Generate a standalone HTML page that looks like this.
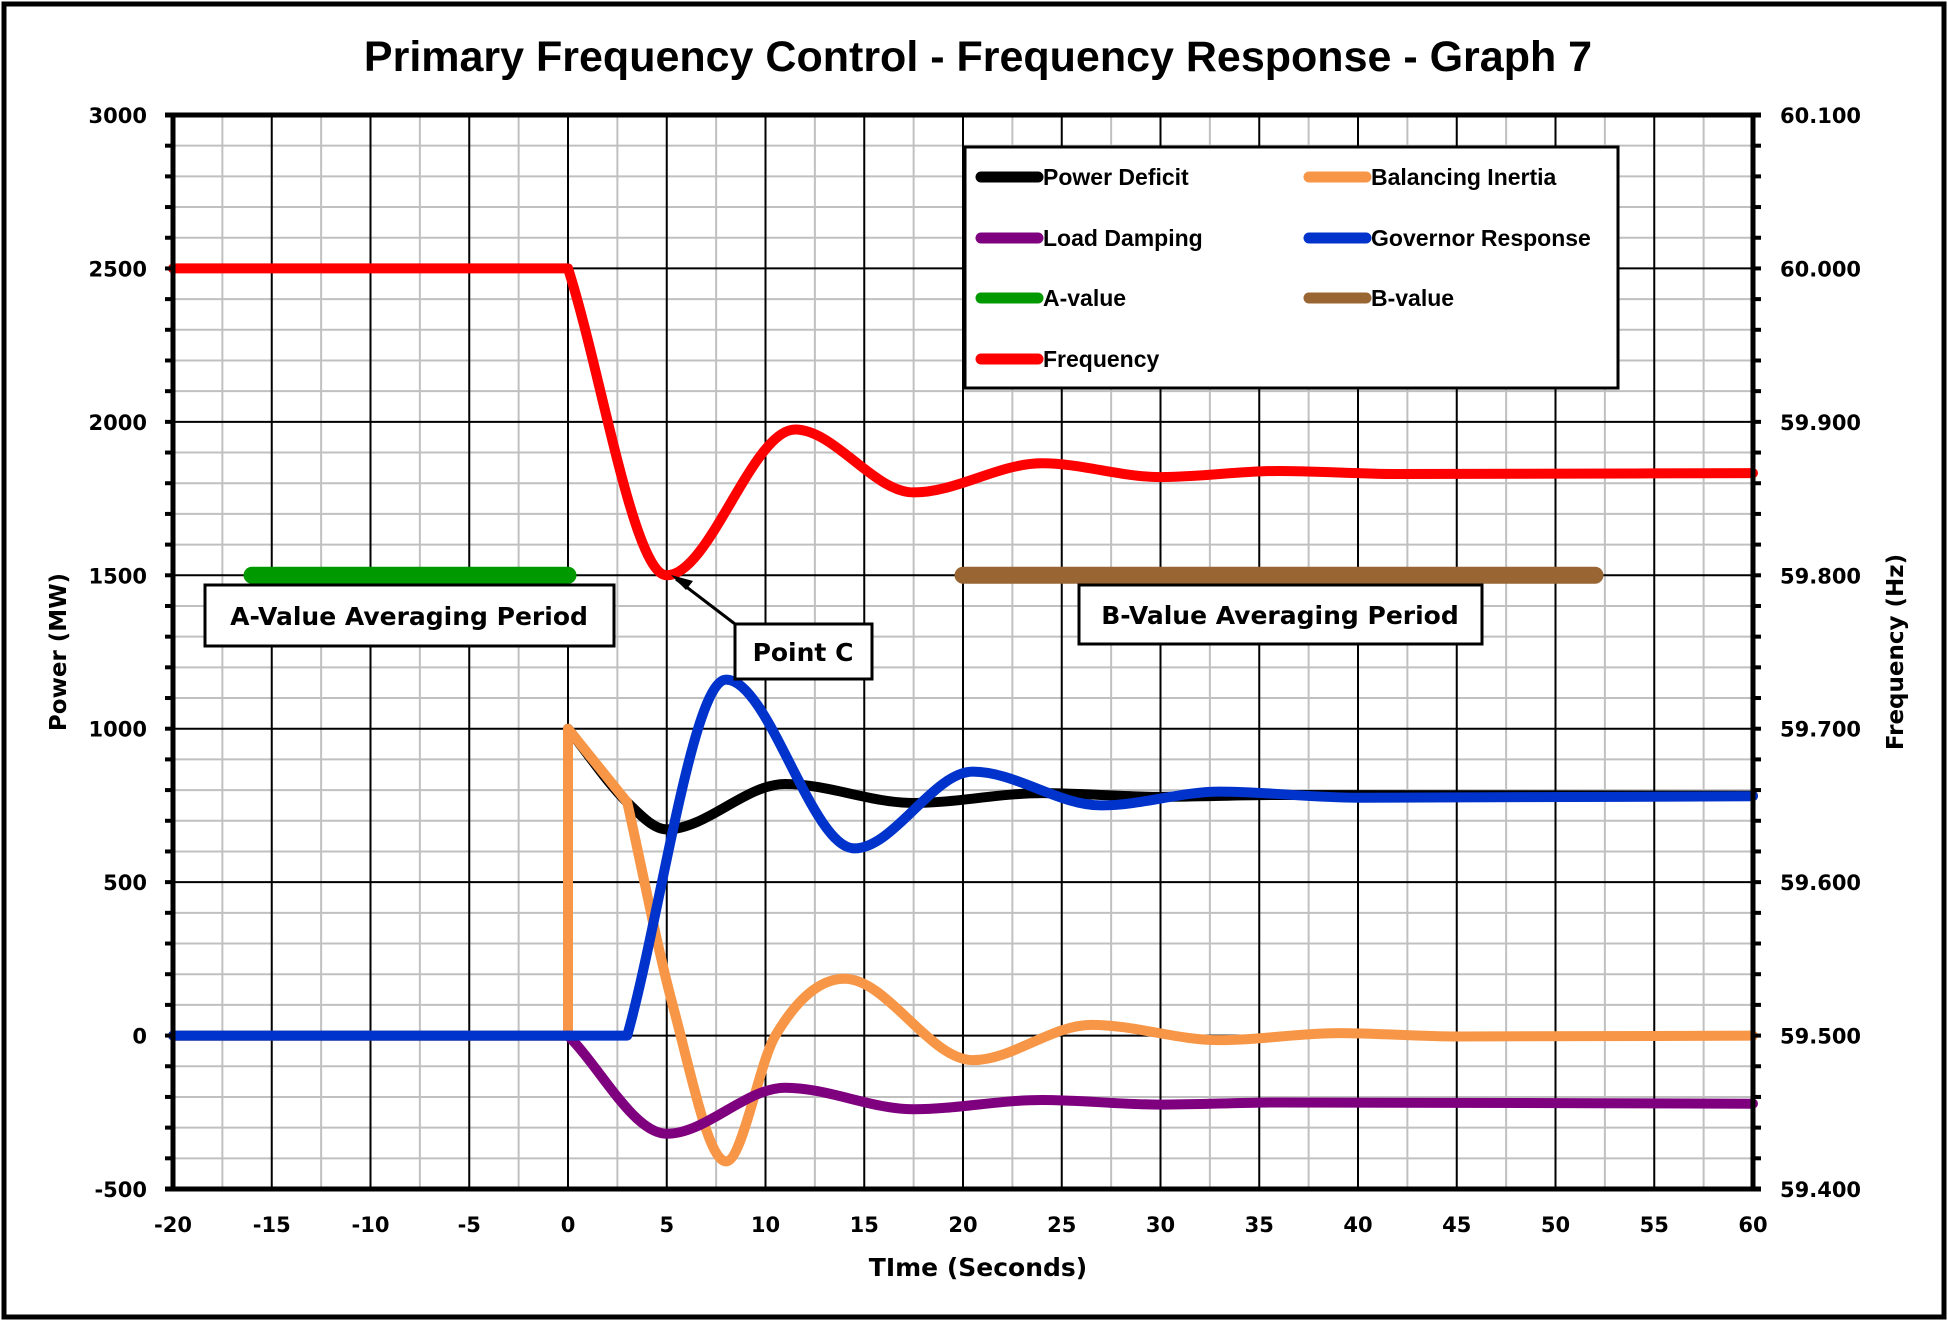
<!DOCTYPE html>
<html><head><meta charset="utf-8"><style>
html,body{margin:0;padding:0;background:#fff}
svg{display:block}
text{font-family:"DejaVu Sans","Liberation Sans",sans-serif;font-weight:bold;fill:#000}
.lg{font-family:"Liberation Sans",sans-serif;font-size:23px}
</style></head><body>
<svg id="s" width="1948" height="1321" viewBox="0 0 1948 1321" xmlns="http://www.w3.org/2000/svg">
<rect x="4" y="4" width="1940" height="1313" fill="#fff" stroke="#000" stroke-width="5"/>
<text x="978" y="71" text-anchor="middle" style="font-family:'Liberation Sans',sans-serif;font-size:43px">Primary Frequency Control - Frequency Response - Graph 7</text>
<g id="grid"></g>
<g id="curves" fill="none" stroke-linejoin="round" stroke-linecap="round"></g>
<g id="ticks"></g>
<rect x="965" y="147" width="653" height="241" fill="#fff" stroke="#000" stroke-width="3"/>
<g stroke-width="11" stroke-linecap="round">
<line x1="981" y1="177" x2="1038" y2="177" stroke="#000"/>
<line x1="1309" y1="177" x2="1366" y2="177" stroke="#F79646"/>
<line x1="981" y1="238" x2="1038" y2="238" stroke="#7F007F"/>
<line x1="1309" y1="238" x2="1366" y2="238" stroke="#0033CC"/>
<line x1="981" y1="298" x2="1038" y2="298" stroke="#009900"/>
<line x1="1309" y1="298" x2="1366" y2="298" stroke="#996633"/>
<line x1="981" y1="359" x2="1038" y2="359" stroke="#FF0000"/>
</g>
<text class="lg" x="1043" y="185">Power Deficit</text>
<text class="lg" x="1371" y="185">Balancing Inertia</text>
<text class="lg" x="1043" y="246">Load Damping</text>
<text class="lg" x="1371" y="246">Governor Response</text>
<text class="lg" x="1043" y="306">A-value</text>
<text class="lg" x="1371" y="306">B-value</text>
<text class="lg" x="1043" y="367">Frequency</text>
<rect x="205" y="585" width="409" height="61" fill="#fff" stroke="#000" stroke-width="3"/>
<text x="409" y="625" text-anchor="middle" style="font-size:25px">A-Value Averaging Period</text>
<rect x="1079" y="585" width="403" height="59" fill="#fff" stroke="#000" stroke-width="3"/>
<text x="1280" y="624" text-anchor="middle" style="font-size:25px">B-Value Averaging Period</text>
<rect x="735" y="624" width="137" height="55" fill="#fff" stroke="#000" stroke-width="3"/>
<text x="803" y="661" text-anchor="middle" style="font-size:25px">Point C</text>
<line x1="735" y1="624" x2="676" y2="579" stroke="#000" stroke-width="3"/>
<polygon points="671,575 693,581 686,590" fill="#000"/>
<text transform="translate(66,652) rotate(-90)" text-anchor="middle" style="font-size:23px">Power (MW)</text>
<text transform="translate(1903,652) rotate(-90)" text-anchor="middle" style="font-size:23px">Frequency (Hz)</text>
<text x="978" y="1276" text-anchor="middle" style="font-size:25px">TIme (Seconds)</text>
</svg>
<script>
var L=173,R=1753,T=115,B=1189;
function X(t){return L+(t+20)*(R-L)/80}
function Y(v){return T+(3000-v)*(B-T)/3500}
var ns="http://www.w3.org/2000/svg";
function el(p,n,a){var e=document.createElementNS(ns,n);for(var k in a)e.setAttribute(k,a[k]);p.appendChild(e);return e}
var g=document.getElementById('grid'),tk=document.getElementById('ticks'),cv=document.getElementById('curves');
for(var v=-500;v<=3000;v+=100){if(v%500)el(g,'line',{x1:L,x2:R,y1:Y(v),y2:Y(v),stroke:'#c0c0c0','stroke-width':2})}
for(var t=-20;t<=60;t+=2.5){if(t%5)el(g,'line',{x1:X(t),x2:X(t),y1:T,y2:B,stroke:'#c0c0c0','stroke-width':2})}
for(var v=-500;v<=3000;v+=500)el(g,'line',{x1:L,x2:R,y1:Y(v),y2:Y(v),stroke:'#000','stroke-width':2});
for(var t=-20;t<=60;t+=5)el(g,'line',{x1:X(t),x2:X(t),y1:T,y2:B,stroke:'#000','stroke-width':2});
function mono(pts){
 var n=pts.length,d=[],m=[];
 for(var i=0;i<n-1;i++)d.push((pts[i+1][1]-pts[i][1])/(pts[i+1][0]-pts[i][0]));
 for(var i=0;i<n;i++){if(i==0)m.push(d[0]);else if(i==n-1)m.push(d[n-2]);else m.push(d[i-1]*d[i]<=0?0:(d[i-1]+d[i])/2)}
 var s='M'+X(pts[0][0])+','+Y(pts[0][1]);
 for(var i=0;i<n-1;i++){var h=pts[i+1][0]-pts[i][0];
  s+=' C'+X(pts[i][0]+h/3)+','+Y(pts[i][1]+m[i]*h/3)+' '+X(pts[i+1][0]-h/3)+','+Y(pts[i+1][1]-m[i+1]*h/3)+' '+X(pts[i+1][0])+','+Y(pts[i+1][1]);}
 return s}
function lin(pts){return 'M'+pts.map(function(p){return X(p[0])+','+Y(p[1])}).join(' L')}
function path(d,c){el(cv,'path',{d:d,stroke:c,'stroke-width':10})}
path(lin([[-20,0],[0,0]])+mono([[0,1000],[3,760],[5,672],[11,820],[17.5,758],[24,790],[30,778],[36,784],[60,782]]).replace('M',' L'),'#000');
path(lin([[-20,0],[0,0],[0,1000],[3,760]])+mono([[3,760],[5.3,100],[8,-410],[10.5,0],[14,185],[20.5,-80],[26.5,35],[33,-15],[39,8],[45,-3],[60,0]]).replace('M',' L'),'#F79646');
path(mono([[0,0],[5,-320],[11,-170],[17.5,-240],[24,-210],[30,-225],[36,-218],[60,-222]]),'#7F007F');
path(lin([[-20,0],[3,0]])+mono([[3,0],[8,1160],[14.5,610],[20.5,860],[27,750],[33,795],[40,775],[60,780]]).replace('M',' L'),'#0033CC');
el(cv,'line',{x1:X(-16),x2:X(0),y1:Y(1500),y2:Y(1500),stroke:'#009900','stroke-width':17});
el(cv,'line',{x1:X(20),x2:X(52),y1:Y(1500),y2:Y(1500),stroke:'#996633','stroke-width':17});
path(lin([[-20,2500],[0,2500]])+mono([[0,2500],[5,1500],[11.5,1975],[17.5,1770],[24,1865],[30,1820],[36,1840],[42,1830],[60,1833]]).replace('M',' L'),'#FF0000');
el(tk,'line',{x1:L,x2:L,y1:T-2,y2:B+2,stroke:'#000','stroke-width':5});
el(tk,'line',{x1:R,x2:R,y1:T-2,y2:B+2,stroke:'#000','stroke-width':5});
el(tk,'line',{x1:L-8,x2:R+8,y1:T,y2:T,stroke:'#000','stroke-width':5});
el(tk,'line',{x1:L-8,x2:R+8,y1:B,y2:B,stroke:'#000','stroke-width':5});
for(var v=-500;v<=3000;v+=100){
 el(tk,'line',{x1:L-8,x2:L,y1:Y(v),y2:Y(v),stroke:'#000','stroke-width':4});
 el(tk,'line',{x1:R,x2:R+8,y1:Y(v),y2:Y(v),stroke:'#000','stroke-width':4});
 if(v%500==0){
  var a=el(tk,'text',{x:147,y:Y(v)+8,'text-anchor':'end','font-size':'21'});a.textContent=v;
  var b=el(tk,'text',{x:1780,y:Y(v)+8,'font-size':'21'});b.textContent=(59.5+v/5000).toFixed(3);
 }}
for(var t=-20;t<=60;t+=5){var c=el(tk,'text',{x:X(t),y:1232,'text-anchor':'middle','font-size':'21'});c.textContent=t;}
</script>
</body></html>
